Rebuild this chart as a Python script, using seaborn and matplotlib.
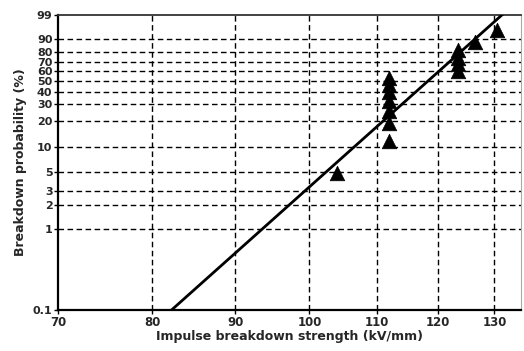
import numpy as np
import pandas as pd
import matplotlib
matplotlib.use("Agg")
import matplotlib.pyplot as plt
import seaborn as sns

# data
strength = [104.0, 112.0, 112.0, 112.0, 112.0, 112.0, 112.0, 112.0,
            123.5, 123.5, 123.5, 123.5, 126.5, 130.5]
probability = [4.9, 11.8, 18.8, 25.7, 32.6, 39.6, 46.5, 53.5,
               60.4, 67.4, 74.3, 81.3, 88.2, 95.1]
fit_beta = 18.0
fit_eta = 120.7
x_ticks = [70, 80, 90, 100, 110, 120, 130]
y_ticks = [0.1, 1, 2, 3, 5, 10, 20, 30, 40, 50, 60, 70, 80, 90, 99]

sns.set_style("white")
plt.rcParams['font.family'] = ['DejaVu Sans']

def fwd(p):
    p = np.clip(np.asarray(p, dtype=float), 1e-6, 99.9999)
    return np.log(-np.log(1 - p / 100.0))

def inv(y):
    return 100.0 * (1 - np.exp(-np.exp(np.asarray(y, dtype=float))))

fig = plt.figure(figsize=(5.24, 3.51), dpi=100)
ax = fig.add_axes([58/524, 1 - 310/351, (521-58)/524, (310-15)/351])

ax.set_xscale('log')
ax.set_yscale('function', functions=(fwd, inv))
ax.set_xlim(70, 135)
ax.set_ylim(0.1, 99)

df = pd.DataFrame({"x": strength, "p": probability})
sns.scatterplot(data=df, x="x", y="p", marker="^", s=110, color="black",
                edgecolor="black", linewidth=0.5, ax=ax, zorder=4)

# Weibull fit line
xl = np.linspace(75, 140, 200)
pl = 100.0 * (1 - np.exp(-(xl / fit_eta) ** fit_beta))
ax.plot(xl, pl, color="black", lw=2, zorder=3)

ax.set_xticks(x_ticks)
ax.set_xticklabels([str(t) for t in x_ticks])
ax.xaxis.set_minor_locator(matplotlib.ticker.NullLocator())
ax.set_yticks(y_ticks)
ax.set_yticklabels([str(t) for t in y_ticks])
ax.yaxis.set_minor_locator(matplotlib.ticker.NullLocator())

for t in y_ticks[1:-1]:
    ax.axhline(t, color="black", lw=1, ls=(0, (4, 2.5)), zorder=1)
for t in x_ticks[1:]:
    ax.axvline(t, color="black", lw=1, ls=(0, (4, 2.5)), zorder=1)

ax.tick_params(axis='both', which='major', length=3, width=1, color='black',
               pad=1, direction='out', bottom=True, left=True)
ax.tick_params(axis='x', labelsize=8.5)
ax.tick_params(axis='y', labelsize=8)
for lab in ax.get_xticklabels() + ax.get_yticklabels():
    lab.set_fontweight('bold')

for side in ['left', 'bottom']:
    ax.spines[side].set_color('black')
    ax.spines[side].set_linewidth(1.6)
ax.spines['top'].set_color('#333333')
ax.spines['top'].set_linewidth(1.3)
ax.spines['right'].set_color('#aaaaaa')
ax.spines['right'].set_linewidth(0.8)

ax.set_xlabel("Impulse breakdown strength (kV/mm)", fontsize=9, fontweight='bold', labelpad=1)
ax.set_ylabel("Breakdown probability (%)", fontsize=9, fontweight='bold', labelpad=4)

fig.savefig("out.png", dpi=100)
